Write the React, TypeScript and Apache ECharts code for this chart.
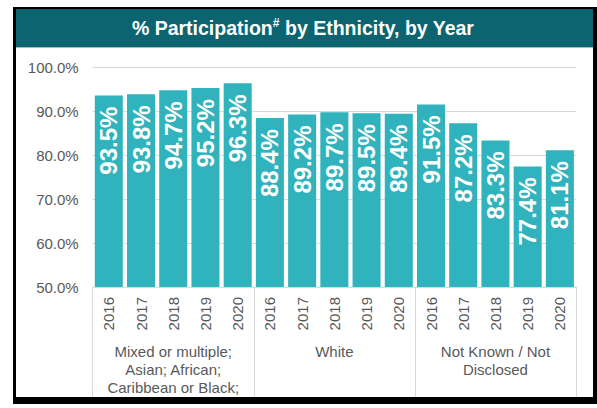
import React, { useEffect, useRef } from "react";
import * as echarts from "echarts";

const years = ["2016", "2017", "2018", "2019", "2020"];
const groupLabels = [
  "Mixed or multiple;\nAsian; African;\nCaribbean or Black;",
  "White",
  "Not Known / Not\nDisclosed",
];
const mixedValues = [93.5, 93.8, 94.7, 95.2, 96.3];
const whiteValues = [88.4, 89.2, 89.7, 89.5, 89.4];
const notKnownValues = [91.5, 87.2, 83.3, 77.4, 81.1];
const yMin = 50;
const yMax = 100;
const yStep = 10;
const titleMain = "% Participation";
const titleSup = "#";
const titleRest = " by Ethnicity, by Year";

const FONT = "Liberation Sans, Arial, sans-serif";
const GRAY = "#595959";
const GRID = "#d9d9d9";
const BAR = "#31b3bd";

export default function App() {
  const ref = useRef<HTMLDivElement>(null);
  useEffect(() => {
    if (!ref.current) return;
    const chart = echarts.init(ref.current, undefined, { renderer: "svg" });
    const categories = [...years, ...years, ...years];
    const values = [...mixedValues, ...whiteValues, ...notKnownValues];
    chart.setOption({
      animation: false,
      textStyle: { fontFamily: FONT },
      grid: { left: 92.7, right: 21, top: 67, bottom: 121, containLabel: false },
      graphic: [
        {
          type: "text",
          x: 303,
          y: 28,
          style: {
            text: `{a|${titleMain}}{s|${titleSup}}{a|${titleRest}}`,
            align: "center",
            verticalAlign: "middle",
            fill: "#fff",
            rich: {
              a: { fontSize: 19.5, fontWeight: "bold", fontFamily: FONT, fill: "#fff", lineHeight: 22 },
              s: { fontSize: 12, fontWeight: "bold", fontFamily: FONT, fill: "#fff", lineHeight: 12, verticalAlign: "top" },
            },
          },
        },
      ],
      xAxis: [
        {
          type: "category",
          data: categories,
          position: "bottom",
          axisLine: { show: true, lineStyle: { color: GRID, width: 1 } },
          axisTick: { show: false },
          axisLabel: {
            rotate: 90,
            margin: 10,
            color: GRAY,
            fontSize: 15,
            fontFamily: FONT,
            interval: 0,
          },
        },
        {
          type: "category",
          data: groupLabels,
          position: "bottom",
          axisLine: { show: false },
          axisTick: { show: true, length: 110, lineStyle: { color: GRID, width: 1 } },
          axisLabel: {
            margin: 55,
            color: GRAY,
            fontSize: 15,
            lineHeight: 18,
            fontFamily: FONT,
            interval: 0,
          },
        },
      ],
      yAxis: {
        type: "value",
        min: yMin,
        max: yMax,
        interval: yStep,
        axisLine: { show: false },
        axisTick: { show: false },
        splitLine: { lineStyle: { color: GRID, width: 1 } },
        axisLabel: {
          margin: 14,
          color: GRAY,
          fontSize: 15,
          fontFamily: FONT,
          formatter: (v: number) => v.toFixed(1) + "%",
        },
      },
      series: [
        {
          type: "bar",
          xAxisIndex: 0,
          data: values,
          barCategoryGap: "13%",
          itemStyle: { color: BAR },
          label: {
            show: true,
            position: "insideTop",
            rotate: 90,
            align: "right",
            verticalAlign: "middle",
            distance: 11,
            color: "#fff",
            fontWeight: "bold",
            fontSize: 24,
            fontFamily: FONT,
            formatter: (p: any) => Number(p.value).toFixed(1) + "%",
          },
        },
      ],
    });
    return () => chart.dispose();
  }, []);

  return (
    <div style={{ position: "fixed", left: 0, top: 0, width: 597, height: 408, background: "#fff" }}>
      <div style={{ position: "absolute", left: 13, top: 7, width: 584, height: 397, background: "#000" }} />
      <div style={{ position: "absolute", left: 16, top: 9, width: 577, height: 388, background: "#fff" }} />
      <div style={{ position: "absolute", left: 16, top: 9, width: 577, height: 38, background: "#0b6470" }} />
      <div style={{ position: "absolute", left: 16, top: 47, width: 577, height: 1, background: "#b0b8ba" }} />
      <div ref={ref} style={{ position: "absolute", left: 0, top: 0, width: 597, height: 408 }} />
    </div>
  );
}
